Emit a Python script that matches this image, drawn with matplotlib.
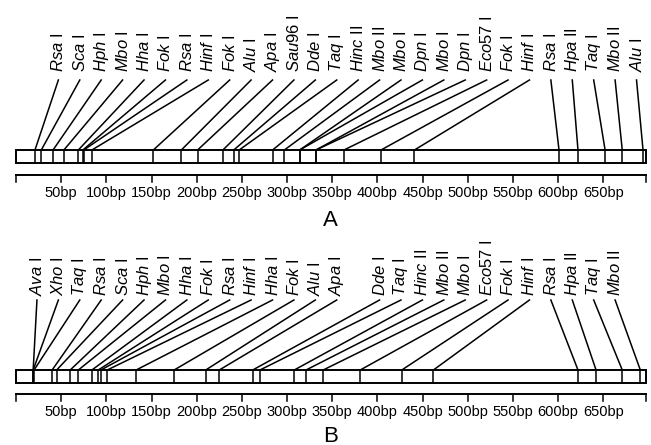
import matplotlib.pyplot as plt
from matplotlib.patches import Rectangle

plt.rcParams["font.family"] = "Liberation Sans"
plt.rcParams["mathtext.fontset"] = "custom"
plt.rcParams["mathtext.it"] = "Liberation Sans:italic"
plt.rcParams["mathtext.rm"] = "Liberation Sans"

# restriction map A
enzymes_a = ["Rsa", "Sca", "Hph", "Mbo", "Hha", "Fok", "Rsa", "Hinf", "Fok", "Alu",
             "Apa", "Sau96", "Dde", "Taq", "Hinc", "Mbo", "Mbo", "Dpn", "Mbo", "Dpn",
             "Eco57", "Fok", "Hinf", "Rsa", "Hpa", "Taq", "Mbo", "Alu"]
numerals_a = ["I", "I", "I", "I", "I", "I", "I", "I", "I", "I",
              "I", "I", "I", "I", "II", "II", "I", "I", "I", "I",
              "I", "I", "I", "I", "II", "I", "II", "I"]
sites_a = [21, 28, 41, 53, 69, 74, 75, 84, 152, 183,
           201, 229, 241, 247, 284, 297, 314, 314, 332, 332,
           363, 404, 441, 601, 622, 652, 671, 694]

# restriction map B
enzymes_b = ["Ava", "Xho", "Taq", "Rsa", "Sca", "Hph", "Mbo", "Hha", "Fok", "Rsa",
             "Hinf", "Hha", "Fok", "Alu", "Apa", "Dde", "Taq", "Hinc", "Mbo", "Mbo",
             "Eco57", "Fok", "Hinf", "Rsa", "Hpa", "Taq", "Mbo"]
numerals_b = ["I", "I", "I", "I", "I", "I", "I", "I", "I", "I",
              "I", "I", "I", "I", "I", "I", "I", "II", "II", "I",
              "I", "I", "I", "I", "II", "I", "II"]
sites_b = [19, 19, 20, 40, 45, 60, 69, 84, 91, 94,
           101, 133, 175, 210, 225, 262, 270, 308, 321, 340,
           381, 427, 462, 622, 642, 671, 691]

seq_len = 697
ticks = [50, 100, 150, 200, 250, 300, 350, 400, 450, 500, 550, 600, 650]

PX_PER_BP = 0.9035
LABEL_X0 = 23.2      # bp position of the first label slot
LABEL_STEP = 23.7    # bp between label slots


def draw_panel(ax, enzymes, numerals, sites, slots, label_y, line_top,
               box_top, box_h, axis_y, letter, letter_y):
    for name, num, site, slot in zip(enzymes, numerals, sites, slots):
        lx = LABEL_X0 + LABEL_STEP * slot
        ax.text(lx, label_y, rf"$\mathit{{{name}}}\ \mathrm{{{num}}}$",
                rotation=90, ha="center", va="bottom", fontsize=12)
        ax.plot([lx, site], [line_top, box_top], color="black", lw=1.1)
        ax.plot([site, site], [box_top, box_top + box_h], color="black", lw=1.1)
    ax.add_patch(Rectangle((0, box_top), seq_len, box_h, fill=False,
                           edgecolor="black", lw=1.4))
    ax.plot([0, seq_len], [axis_y, axis_y], color="black", lw=1.4)
    for t in [0] + ticks + [seq_len]:
        ax.plot([t, t], [axis_y, axis_y + 7], color="black", lw=1.1)
    for t in ticks:
        ax.text(t, axis_y + 18, f"{t}bp", ha="center", va="center", fontsize=10.5)
    ax.text(seq_len / 2, letter_y, letter, ha="center", va="center", fontsize=16)


fig = plt.figure(figsize=(6.51, 4.45), dpi=100)
ax = fig.add_axes([0, 0, 1, 1])
ax.set_xlim(-16 / PX_PER_BP, (651 - 16) / PX_PER_BP)
ax.set_ylim(445, 0)
ax.axis("off")

draw_panel(ax, enzymes_a, numerals_a, sites_a, range(1, 29),
           label_y=72, line_top=80, box_top=150, box_h=13, axis_y=174.5,
           letter="A", letter_y=221)
draw_panel(ax, enzymes_b, numerals_b, sites_b,
           list(range(0, 15)) + list(range(16, 28)),
           label_y=296, line_top=300, box_top=370, box_h=13, axis_y=394,
           letter="B", letter_y=436)

fig.savefig("out.png", dpi=100)
